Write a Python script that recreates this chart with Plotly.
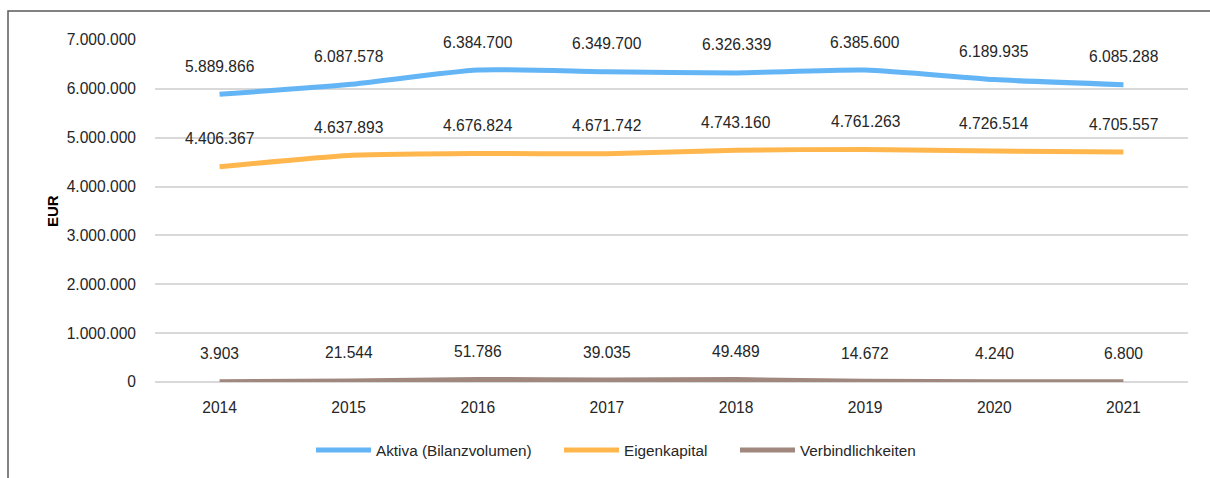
import plotly.graph_objects as go

years = ["2014", "2015", "2016", "2017", "2018", "2019", "2020", "2021"]
aktiva = [5889866, 6087578, 6384700, 6349700, 6326339, 6385600, 6189935, 6085288]
eigenkapital = [4406367, 4637893, 4676824, 4671742, 4743160, 4761263, 4726514, 4705557]
verbindlichkeiten = [3903, 21544, 51786, 39035, 49489, 14672, 4240, 6800]

series = [
    ("Aktiva (Bilanzvolumen)", aktiva, "#64B5F6"),
    ("Eigenkapital", eigenkapital, "#FFB74D"),
    ("Verbindlichkeiten", verbindlichkeiten, "#A1887F"),
]

FONT = "Liberation Sans, Arial, sans-serif"
TXT = "#262626"
FS = 15.6

# legend entry left edges (px) in the page
legend_px = [317, 565, 741]
legend_names = ["legend", "legend2", "legend3"]

fig = go.Figure()
annotations = []
for k, (name, vals, color) in enumerate(series):
    fig.add_trace(go.Scatter(
        x=years, y=vals, name=name, mode="lines", legend=legend_names[k],
        line=dict(color=color, width=5, shape="spline", smoothing=0.6),
    ))
    for i, v in enumerate(vals):
        annotations.append(dict(
            x=i, y=v, xref="x", yref="y", text=f"{v:,}".replace(",", "."),
            showarrow=False, yshift=28, font=dict(family=FONT, size=FS, color=TXT),
        ))

annotations.append(dict(
    x=(52 - 155) / 1033, y=0.5, xref="paper", yref="paper", text="<b>EUR</b>",
    xanchor="center", yanchor="middle",
    textangle=-90, showarrow=False, font=dict(family=FONT, size=15, color="#000000"),
))

legends = {}
for k, ln in enumerate(legend_names):
    legends[ln] = dict(orientation="h", x=(legend_px[k] - 6 - 155) / 1033, xanchor="left",
                       y=-0.199, yanchor="middle", itemwidth=55,
                       bgcolor="rgba(0,0,0,0)",
                       font=dict(family=FONT, size=15.3, color=TXT))

fig.update_layout(
    width=1210, height=478,
    margin=dict(l=155, r=22, t=40, b=96, autoexpand=False),
    paper_bgcolor="white", plot_bgcolor="white",
    separators=",.",
    font=dict(family=FONT, size=FS, color=TXT),
    showlegend=True,
    annotations=annotations,
    xaxis=dict(type="category", range=[-0.5, len(years) - 0.5],
               showgrid=False, showline=False, zeroline=False, ticks="",
               ticklabelstandoff=14,
               tickfont=dict(family=FONT, size=FS, color=TXT)),
    yaxis=dict(range=[0, 7000000], dtick=1000000, tickformat=",d",
               showgrid=True, gridcolor="#D9D9D9", gridwidth=2,
               zeroline=True, zerolinecolor="#D9D9D9", zerolinewidth=2,
               showline=False, ticks="", ticklabelstandoff=18,
               tickfont=dict(family=FONT, size=FS, color=TXT)),
    shapes=[dict(type="rect", xref="paper", yref="paper",
                 x0=(8 - 155) / 1033, x1=1.2, y0=-0.6, y1=(382 - 11) / 342,
                 line=dict(color="#595959", width=1.5), fillcolor="rgba(0,0,0,0)",
                 layer="below")],
    **legends,
)

fig.write_html("out.html", config={"displayModeBar": False},
               post_script="document.body.style.margin='0';")
